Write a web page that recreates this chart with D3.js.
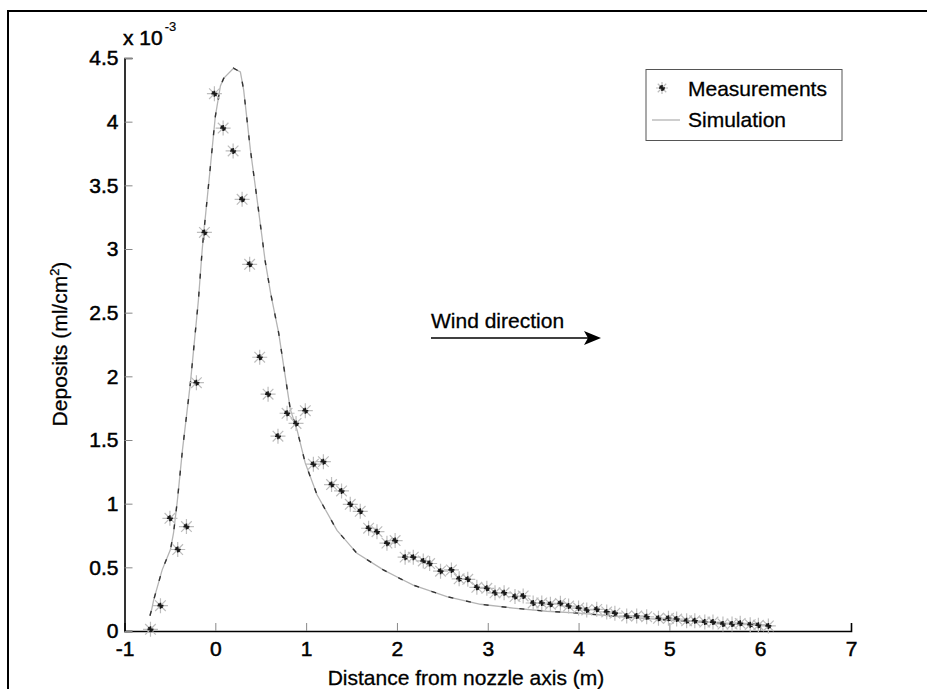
<!DOCTYPE html>
<html>
<head>
<meta charset="utf-8">
<script src="https://cdn.jsdelivr.net/npm/d3@7"></script>
<style>
  body { margin: 0; background: #fff; }
  svg { display: block; font-family: "Liberation Sans", Arial, sans-serif; }
</style>
</head>
<body>
<svg id="chart" width="927" height="689"></svg>
<script>
// ---- data (deposits in units of 1e-3 ml/cm^2) ----
const xTicks = [-1, 0, 1, 2, 3, 4, 5, 6, 7];
const xTickLabels = ["-1", "0", "1", "2", "3", "4", "5", "6", "7"];
const yTicks = [0, 0.5, 1, 1.5, 2, 2.5, 3, 3.5, 4, 4.5];
const yTickLabels = ["0", "0.5", "1", "1.5", "2", "2.5", "3", "3.5", "4", "4.5"];

const simX = [-0.72, -0.70, -0.68, -0.585, -0.494, -0.46, -0.417, -0.362, -0.274, -0.186, -0.145, -0.128, -0.054, 0.0, 0.056, 0.092, 0.20, 0.276, 0.312, 0.386, 0.46, 0.55, 0.61, 0.698, 0.753, 0.826, 0.90, 0.99, 1.12, 1.34, 1.56, 1.85, 2.04, 2.18, 2.55, 2.92, 3.28, 3.65, 4.0, 4.5, 5.0, 5.5, 6.0, 6.1];
const simY = [0.12, 0.17, 0.24, 0.48, 0.64, 0.77, 1.03, 1.42, 1.95, 2.60, 2.99, 3.12, 3.65, 4.04, 4.28, 4.34, 4.42, 4.39, 4.25, 3.78, 3.39, 2.90, 2.65, 2.34, 2.08, 1.74, 1.58, 1.32, 1.07, 0.79, 0.61, 0.48, 0.41, 0.36, 0.27, 0.21, 0.18, 0.155, 0.14, 0.11, 0.085, 0.065, 0.05, 0.045];

const measX = [-0.714, -0.604, -0.50, -0.414, -0.318, -0.208, -0.12, -0.01, 0.086, 0.196, 0.295, 0.378, 0.489, 0.581, 0.69, 0.79, 0.889, 0.991, 1.08, 1.19, 1.28, 1.39, 1.486, 1.596, 1.688, 1.78, 1.89, 1.98, 2.09, 2.18, 2.29, 2.36, 2.48, 2.60, 2.685, 2.78, 2.88, 2.99, 3.08, 3.18, 3.30, 3.39, 3.50, 3.595, 3.69, 3.80, 3.89, 4.0, 4.09, 4.20, 4.31, 4.40, 4.53, 4.64, 4.75, 4.88, 4.99, 5.08, 5.19, 5.28, 5.39, 5.48, 5.59, 5.69, 5.78, 5.89, 5.98, 6.09];
const measY = [0.013, 0.199, 0.885, 0.64, 0.82, 1.95, 3.13, 4.22, 3.95, 3.77, 3.39, 2.88, 2.15, 1.86, 1.53, 1.71, 1.63, 1.73, 1.31, 1.33, 1.15, 1.10, 0.995, 0.94, 0.807, 0.78, 0.69, 0.71, 0.58, 0.58, 0.55, 0.53, 0.47, 0.48, 0.41, 0.406, 0.343, 0.335, 0.30, 0.30, 0.27, 0.275, 0.22, 0.22, 0.21, 0.217, 0.196, 0.18, 0.165, 0.17, 0.15, 0.14, 0.118, 0.118, 0.112, 0.10, 0.10, 0.094, 0.08, 0.08, 0.07, 0.07, 0.055, 0.055, 0.06, 0.05, 0.045, 0.04];

const legendLabels = ["Measurements", "Simulation"];
const xLabel = "Distance from nozzle axis (m)";
const windLabel = "Wind direction";

// ---- drawing ----
const svg = d3.select("#chart");
const x = d3.scaleLinear().domain([-1, 7]).range([124.5, 851]);
const y = d3.scaleLinear().domain([0, 4.5]).range([631, 58]);

// outer frame
svg.append("path")
  .attr("d", "M8,700 L8,11 L940,11")
  .attr("fill", "none").attr("stroke", "#000").attr("stroke-width", 2);

// axes
const xAxis = svg.append("g").attr("transform", "translate(0,631)")
  .call(d3.axisBottom(x).tickValues(xTicks).tickSize(-8).tickPadding(10).tickFormat((d, i) => xTickLabels[i]));
const yAxis = svg.append("g").attr("transform", "translate(124.5,0)")
  .call(d3.axisLeft(y).tickValues(yTicks).tickSize(-8).tickPadding(6).tickFormat((d, i) => yTickLabels[i]));
[xAxis, yAxis].forEach(g => {
  g.select(".domain").attr("stroke", "#000").attr("stroke-width", 1.6);
  g.selectAll(".tick line").attr("stroke", "#888").attr("stroke-width", 1);
  g.selectAll(".tick text").attr("font-size", 21).attr("fill", "#000")
    .attr("stroke", "#000").attr("stroke-width", 0.5)
    .attr("font-family", "'Liberation Sans', Arial, sans-serif");
});
xAxis.selectAll(".tick line").filter(d => d === 7).attr("stroke", "#000");

// exponent label
const expT = svg.append("text").attr("x", 123).attr("y", 45).attr("font-size", 21)
  .attr("fill", "#000").attr("stroke", "#000").attr("stroke-width", 0.5);
expT.append("tspan").text("x 10");
expT.append("tspan").attr("dy", -14).attr("dx", 2).attr("font-size", 13).attr("stroke-width", 0.2).text("-3");

// axis titles
svg.append("text").attr("x", 466).attr("y", 685).attr("text-anchor", "middle")
  .attr("font-size", 21).attr("fill", "#000").attr("stroke", "#000").attr("stroke-width", 0.3).text(xLabel);
const yl = svg.append("text").attr("transform", "translate(67,344) rotate(-90)")
  .attr("text-anchor", "middle").attr("font-size", 21).attr("fill", "#000")
  .attr("stroke", "#000").attr("stroke-width", 0.3);
yl.append("tspan").text("Deposits (ml/cm");
yl.append("tspan").attr("font-size", 13).attr("dy", -8).text("2");
yl.append("tspan").attr("dy", 8).text(")");

// simulation line: light grey line with darker dashes
const simData = simX.map((d, i) => [d, simY[i]]);
const line = d3.line().x(d => x(d[0])).y(d => y(d[1]));
svg.append("path").datum(simData).attr("d", line)
  .attr("fill", "none").attr("stroke", "#b4b4b4").attr("stroke-width", 1.3);
svg.append("path").datum(simData).attr("d", line)
  .attr("fill", "none").attr("stroke", "#333").attr("stroke-width", 1.4)
  .attr("stroke-dasharray", "5 13");

// measurement markers
function drawStar(g, r1, r2) {
  const a = r1 * Math.SQRT1_2;
  g.append("path").attr("d", `M${-r1},0H${r1}M0,${-r1}V${r1}M${-a},${-a}L${a},${a}M${-a},${a}L${a},${-a}`)
    .attr("stroke", "#bdbdbd").attr("stroke-width", 1.2).attr("fill", "none");
  const b = r2;
  g.append("path").attr("d", `M${-b},0H${b}M0,${-b}V${b}M${-b*0.7},${-b*0.7}L${b*0.7},${b*0.7}`)
    .attr("stroke", "#1a1a1a").attr("stroke-width", 1.6).attr("fill", "none");
}
const measData = measX.map((d, i) => [d, measY[i]]);
svg.append("g").selectAll("g").data(measData).join("g")
  .attr("transform", d => `translate(${x(d[0])},${y(d[1])})`)
  .each(function () { drawStar(d3.select(this), 7.5, 3); });

// legend
const lg = svg.append("g");
lg.append("rect").attr("x", 646).attr("y", 69.5).attr("width", 196).attr("height", 71)
  .attr("fill", "#fff").attr("stroke", "#555").attr("stroke-width", 1);
const lm = lg.append("g").attr("transform", "translate(662,88)");
drawStar(lm, 6, 3);
lg.append("line").attr("x1", 652).attr("x2", 680).attr("y1", 120).attr("y2", 120)
  .attr("stroke", "#b4b4b4").attr("stroke-width", 1.3);
lg.selectAll("text.leg").data(legendLabels).join("text").attr("class", "leg")
  .attr("x", 688).attr("y", (d, i) => 96 + i * 31)
  .attr("font-size", 21).attr("fill", "#000").attr("stroke", "#000").attr("stroke-width", 0.3)
  .text(d => d);

// wind direction annotation
svg.append("text").attr("x", 431).attr("y", 328).attr("font-size", 21).attr("fill", "#000")
  .attr("stroke", "#000").attr("stroke-width", 0.3).text(windLabel);
svg.append("line").attr("x1", 431).attr("x2", 590).attr("y1", 338).attr("y2", 338)
  .attr("stroke", "#000").attr("stroke-width", 1.5);
svg.append("path").attr("d", "M601,338 L584,331 L588,338 L584,345 Z").attr("fill", "#000");
</script>
</body>
</html>
